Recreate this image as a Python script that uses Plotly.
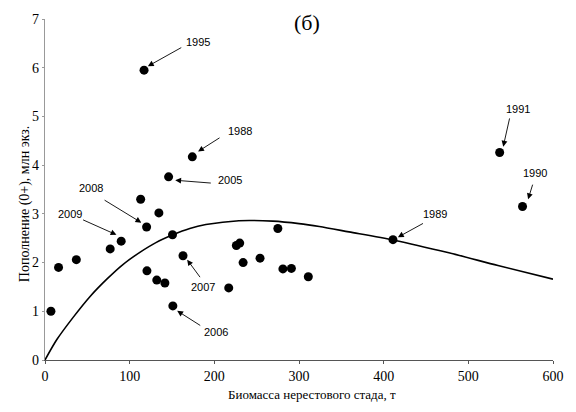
import plotly.graph_objects as go

# Observed points: spawning stock biomass (t) and recruitment (0+, mln ind.)
biomass = [7, 16, 37, 77, 90, 113, 120, 134.5, 150.6, 120.4, 132, 141.6, 151, 163,
           217, 226, 230, 234, 254, 275, 281, 291, 311, 411, 564, 537, 117, 174, 146]
recruits = [1.0, 1.9, 2.06, 2.28, 2.44, 3.30, 2.73, 3.02, 2.57, 1.83, 1.64, 1.58, 1.11, 2.14,
            1.48, 2.35, 2.40, 2.00, 2.09, 2.70, 1.87, 1.88, 1.71, 2.47, 3.15, 4.26, 5.95, 4.17, 3.76]

# Fitted stock-recruitment curve
curve_x = [0, 14, 33, 53, 73, 92, 112, 131, 151, 171, 190, 229, 269, 300, 324, 359, 412, 477, 535, 600]
curve_y = [0, 0.42, 0.87, 1.30, 1.66, 1.96, 2.21, 2.41, 2.57, 2.70, 2.78, 2.86, 2.85, 2.80,
           2.74, 2.63, 2.46, 2.20, 1.94, 1.66]

# Year labels
years = ["1995", "1988", "2005", "2008", "2009", "2007", "2006", "1989", "1991", "1990"]

# label placement (text centre) and arrow tail/head, in data units
label_pos = [(180.4, 6.53), (230.6, 4.70), (218.4, 3.70), (54.9, 3.53), (29.4, 2.99),
             (187, 1.49), (202, 0.585), (460.8, 2.99), (558.8, 5.15), (578.4, 3.84)]
arrow_tail = [(162.7, 6.43), (207.9, 4.58), (197.6, 3.63), (68.6, 3.30), (43.2, 2.89),
              (184.4, 1.67), (185.1, 0.69), (448.2, 2.82), (549.1, 4.99), (576.5, 3.63)]
arrow_head = [(121.5, 6.03), (180.8, 4.28), (153.8, 3.69), (113.8, 2.82), (84.4, 2.57),
              (167.9, 2.06), (156.1, 1.01), (416.8, 2.52), (541.2, 4.38), (570.6, 3.30)]

L, R, T, B = 45, 21, 16, 51.5
W, H = 576, 412
PW, PH = W - L - R, H - T - B


def px_to_paper(px, py):
    return (px - L) / PW, (H - B - py) / PH


fig = go.Figure()
fig.add_trace(go.Scatter(x=curve_x, y=curve_y, mode="lines",
                         line=dict(color="black", width=1.6, shape="spline", smoothing=0.8),
                         hoverinfo="skip", showlegend=False))
fig.add_trace(go.Scatter(x=biomass, y=recruits, mode="markers",
                         marker=dict(color="black", size=9), showlegend=False))

annotations = []
for yr, (tx, ty), (ax_, ay_), (hx, hy) in zip(years, label_pos, arrow_tail, arrow_head):
    annotations.append(dict(x=tx, y=ty, xref="x", yref="y", text=yr, showarrow=False,
                            font=dict(family="Liberation Sans, Arial", size=11, color="#000000")))
    annotations.append(dict(x=hx, y=hy, ax=ax_, ay=ay_, xref="x", yref="y", axref="x", ayref="y",
                            text="", showarrow=True, arrowhead=2, arrowsize=1.3, arrowwidth=0.9,
                            arrowcolor="black", standoff=0))

tx, ty = px_to_paper(308, 20)
annotations.append(dict(x=tx, y=ty, xref="paper", yref="paper", text="(б)", showarrow=False,
                        xanchor="center", yanchor="middle",
                        font=dict(family="Liberation Serif, Times New Roman", size=22, color="black")))
tx, ty = px_to_paper(313, 395)
annotations.append(dict(x=tx, y=ty, xref="paper", yref="paper", text="Биомасса нерестового стада, т",
                        showarrow=False, xanchor="center", yanchor="middle",
                        font=dict(family="Liberation Serif, Times New Roman", size=13, color="black")))
tx, ty = px_to_paper(25, 203)
annotations.append(dict(x=tx, y=ty, xref="paper", yref="paper", text="Пополнение (0+), млн экз.",
                        showarrow=False, xanchor="center", yanchor="middle", textangle=-90,
                        font=dict(family="Liberation Serif, Times New Roman", size=14, color="black")))

fig.update_layout(
    width=W, height=H,
    margin=dict(l=L, r=R, t=T, b=B),
    plot_bgcolor="white", paper_bgcolor="white",
    font=dict(family="Liberation Serif, Times New Roman", size=14, color="black"),
    annotations=annotations,
    xaxis=dict(range=[0, 600], tickvals=[0, 100, 200, 300, 400, 500, 600],
               showline=True, linecolor="#555555", linewidth=1.2, showgrid=False, zeroline=False,
               ticks="outside", ticklen=3, tickcolor="#555555"),
    yaxis=dict(range=[0, 7], tickvals=[0, 1, 2, 3, 4, 5, 6, 7],
               showline=True, linecolor="#999999", linewidth=1.2, showgrid=False, zeroline=False,
               ticks="outside", ticklen=2, tickcolor="#999999"),
)

fig.write_html("out.html")
